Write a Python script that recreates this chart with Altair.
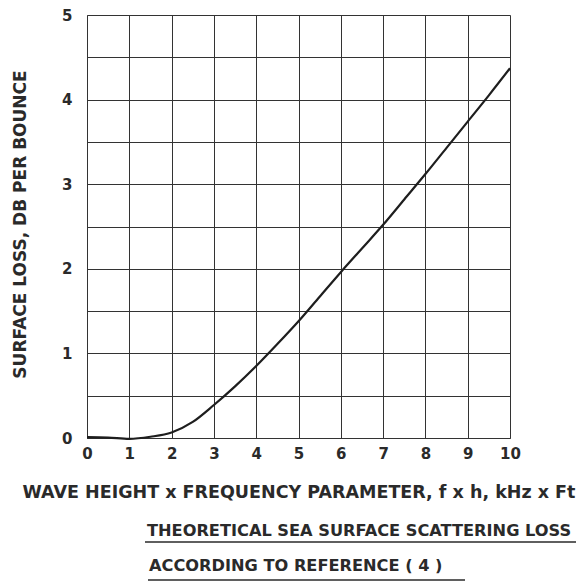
import altair as alt
import pandas as pd

# Data
x_vals = [0, 0.5, 1, 1.5, 2, 2.5, 3, 3.5, 4, 4.5, 5, 5.5, 6, 6.5, 7, 7.5, 8, 8.5, 9, 9.5, 10]
y_vals = [0.01, 0.005, -0.01, 0.015, 0.065, 0.19, 0.39, 0.61, 0.85, 1.11, 1.38, 1.67, 1.96, 2.24,
          2.52, 2.82, 3.12, 3.43, 3.74, 4.05, 4.37]

x_ticks = list(range(0, 11))
y_grid = [i * 0.5 for i in range(0, 11)]

x_title = "WAVE HEIGHT x FREQUENCY PARAMETER, f x h, kHz x Ft"
y_title = "SURFACE LOSS, DB PER BOUNCE"
caption1 = "THEORETICAL SEA SURFACE SCATTERING LOSS"
caption2 = "ACCORDING TO REFERENCE ( 4 )"

FONT = "DejaVu Sans"
INK = "#2a2a2a"
W, H = 423, 423

df = pd.DataFrame({"x": x_vals, "y": y_vals})

line = alt.Chart(df).mark_line(color="#1e1e1e", strokeWidth=2.2, interpolate="monotone").encode(
    x=alt.X("x:Q", scale=alt.Scale(domain=[0, 10], nice=False),
            axis=alt.Axis(values=x_ticks, title=x_title, grid=True, gridColor="#333333",
                          gridOpacity=1, gridWidth=1, ticks=False, labelPadding=8,
                          labelFont=FONT, labelFontSize=15, labelFontWeight="bold",
                          labelColor=INK, titleFont=FONT, titleFontSize=17.5,
                          titleFontWeight="bold", titleColor=INK, titlePadding=22,
                          domainColor="#333333", labelFlush=False, format="d")),
    y=alt.Y("y:Q", scale=alt.Scale(domain=[0, 5], nice=False),
            axis=alt.Axis(values=y_grid, title=y_title, grid=True, gridColor="#333333",
                          gridOpacity=1, gridWidth=1, ticks=False, labelPadding=15,
                          labelExpr="datum.value % 1 == 0 ? format(datum.value, 'd') : ''",
                          labelFont=FONT, labelFontSize=15, labelFontWeight="bold",
                          labelColor=INK, titleFont=FONT, titleFontSize=17,
                          titleFontWeight="bold", titleColor=INK,
                          titleX=-67, titleY=209, titleBaseline="middle", titleAlign="center",
                          titleAngle=270,
                          domainColor="#333333", labelFlush=False)),
)

cap_df = pd.DataFrame({"t1": [caption1], "t2": [caption2]})
cap1 = alt.Chart(cap_df).mark_text(font=FONT, fontSize=16.2, fontWeight="bold", align="left",
                                   baseline="middle", color=INK).encode(
    text="t1:N", x=alt.value(60), y=alt.value(516))
cap2 = alt.Chart(cap_df).mark_text(font=FONT, fontSize=16.2, fontWeight="bold", align="left",
                                   baseline="middle", color=INK).encode(
    text="t2:N", x=alt.value(62), y=alt.value(551))
ul1 = alt.Chart(cap_df).mark_rule(color=INK, strokeWidth=1.6).encode(
    x=alt.value(58), x2=alt.value(489), y=alt.value(527))
ul2 = alt.Chart(cap_df).mark_rule(color=INK, strokeWidth=1.6).encode(
    x=alt.value(61), x2=alt.value(378), y=alt.value(565))

chart = alt.layer(line, cap1, cap2, ul1, ul2).properties(
    width=W, height=H,
    autosize=alt.AutoSizeParams(type="none"),
    padding={"left": 79, "top": 7, "right": 67, "bottom": 145},
).configure_view(stroke="#333333", strokeWidth=1).configure(background="white")

chart.save("out.html", embed_options={"renderer": "svg", "actions": False})
